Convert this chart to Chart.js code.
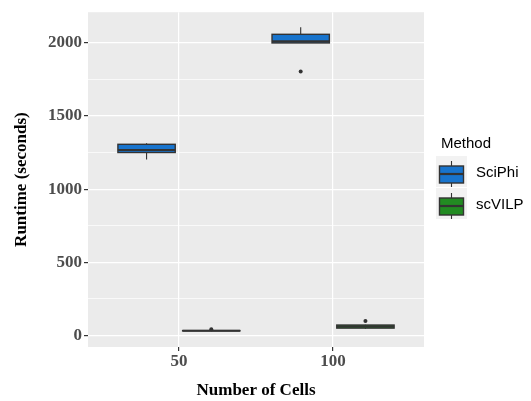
<!DOCTYPE html>
<html>
<head>
<meta charset="utf-8">
<script src="https://cdn.jsdelivr.net/npm/chart.js@4"></script>
<style>
  body { margin: 0; background: #fff; }
  #wrap { width: 531px; height: 401px; }
</style>
</head>
<body>
<div id="wrap"><canvas id="chart" width="531" height="401"></canvas></div>
<script>
// data
const cells = [50, 100];
const methods = ['SciPhi', 'scVILP'];
const colors = ['#1874CD', '#228B22'];

const sciphiMin = [1202, 1998];
const sciphiQ1 = [1250, 1998];
const sciphiMedian = [1267, 2009];
const sciphiQ3 = [1306, 2057];
const sciphiMax = [1313, 2106];
const sciphiOutliers = [[], [1803]];

const scvilpMin = [32, 46];
const scvilpQ1 = [32, 51];
const scvilpMedian = [33, 62];
const scvilpQ3 = [34, 72];
const scvilpMax = [35, 74];
const scvilpOutliers = [[44], [100]];

const yTicks = [0, 250, 500, 750, 1000, 1250, 1500, 1750, 2000];
const xTicks = [50, 100];

const stats = [
  { min: sciphiMin, q1: sciphiQ1, med: sciphiMedian, q3: sciphiQ3, max: sciphiMax, out: sciphiOutliers },
  { min: scvilpMin, q1: scvilpQ1, med: scvilpMedian, q3: scvilpQ3, max: scvilpMax, out: scvilpOutliers }
];

const dodge = 10.5;   // x units between group centre and each box
const boxWidth = 18.6; // x units

const outlierPoints = [];
stats.forEach((s, m) => {
  cells.forEach((c, i) => {
    s.out[i].forEach(v => outlierPoints.push({ x: c + (m === 0 ? -dodge : dodge), y: v }));
  });
});

const panelBg = {
  id: 'panelBg',
  beforeDraw(chart) {
    const { ctx, chartArea: a } = chart;
    ctx.save();
    ctx.fillStyle = '#EBEBEB';
    ctx.fillRect(a.left, a.top, a.right - a.left, a.bottom - a.top);
    ctx.restore();
  }
};

const drawBox = (ctx, cx, half, yMin, yQ1, yMed, yQ3, yMax, fill) => {
  ctx.strokeStyle = '#333333';
  ctx.lineWidth = 1.1;
  ctx.beginPath();
  ctx.moveTo(cx, yMax); ctx.lineTo(cx, yQ3);
  ctx.moveTo(cx, yQ1); ctx.lineTo(cx, yMin);
  ctx.stroke();
  ctx.fillStyle = fill;
  ctx.fillRect(cx - half, yQ3, half * 2, yQ1 - yQ3);
  ctx.lineWidth = 1.4;
  ctx.strokeRect(cx - half, yQ3, half * 2, yQ1 - yQ3);
  ctx.lineWidth = 2.2;
  ctx.beginPath();
  ctx.moveTo(cx - half, yMed); ctx.lineTo(cx + half, yMed);
  ctx.stroke();
};

const boxes = {
  id: 'boxes',
  beforeDatasetsDraw(chart) {
    const { ctx, scales: { x, y } } = chart;
    ctx.save();
    stats.forEach((s, m) => {
      cells.forEach((c, i) => {
        const xv = c + (m === 0 ? -dodge : dodge);
        const cx = x.getPixelForValue(xv);
        const half = (x.getPixelForValue(xv + boxWidth / 2) - cx);
        drawBox(ctx, cx, half,
          y.getPixelForValue(s.min[i]), y.getPixelForValue(s.q1[i]),
          y.getPixelForValue(s.med[i]), y.getPixelForValue(s.q3[i]),
          y.getPixelForValue(s.max[i]), colors[m]);
      });
    });
    ctx.restore();
  }
};

const legend = {
  id: 'methodLegend',
  afterDraw(chart) {
    const { ctx, chartArea: a } = chart;
    const left = a.right + 12;
    ctx.save();
    ctx.fillStyle = '#000';
    ctx.font = '15px "Liberation Sans", Arial, sans-serif';
    ctx.textBaseline = 'middle';
    ctx.fillText('Method', left + 5, 144);
    methods.forEach((name, i) => {
      const top = 156 + i * 32;
      ctx.fillStyle = '#F2F2F2';
      ctx.fillRect(left, top, 31, 31);
      drawBox(ctx, left + 15.5, 12, top + 31, top + 27, top + 18, top + 10, top + 5, colors[i]);
      ctx.fillStyle = '#000';
      ctx.fillText(name, left + 40, top + 17);
    });
    ctx.restore();
  }
};

const tickFont = { family: '"Liberation Serif", "Times New Roman", serif', size: 17, weight: 'bold' };
const titleFont = { family: '"Liberation Serif", "Times New Roman", serif', size: 17, weight: 'bold' };

new Chart(document.getElementById('chart'), {
  type: 'scatter',
  data: {
    datasets: [{
      label: 'outliers',
      data: outlierPoints,
      pointRadius: 2,
      pointHoverRadius: 2,
      pointBackgroundColor: '#333333',
      pointBorderWidth: 0
    }]
  },
  options: {
    responsive: false,
    animation: false,
    events: [],
    layout: { padding: { top: 10, right: 107, left: 0, bottom: 0 } },
    plugins: {
      legend: { display: false },
      tooltip: { enabled: false }
    },
    scales: {
      x: {
        type: 'linear',
        min: 20.5,
        max: 129.5,
        afterBuildTicks: (scale) => { scale.ticks = xTicks.map(v => ({ value: v })); },
        afterFit: (scale) => { scale.height = 54; },
        grid: { color: '#FFFFFF', lineWidth: 1.2, tickLength: 4, tickColor: '#333333' },
        border: { display: false },
        ticks: { font: tickFont, color: '#4D4D4D', padding: 0, maxRotation: 0 },
        title: { display: true, text: 'Number of Cells', font: titleFont, color: '#000', padding: { top: 7, bottom: 0 } }
      },
      y: {
        min: -78,
        max: 2208,
        afterBuildTicks: (scale) => { scale.ticks = yTicks.map(v => ({ value: v })); },
        afterFit: (scale) => { scale.width = 88; },
        grid: {
          color: '#FFFFFF',
          lineWidth: (c) => (c.tick && c.tick.value % 500 === 0 ? 1.2 : 0.7),
          tickLength: 4,
          tickColor: (c) => (c.tick && c.tick.value % 500 === 0 ? '#333333' : 'rgba(0,0,0,0)')
        },
        border: { display: false },
        ticks: {
          font: tickFont,
          color: '#4D4D4D',
          padding: 2,
          callback: (v) => (v % 500 === 0 ? String(v) : '')
        },
        title: { display: true, text: 'Runtime (seconds)', font: titleFont, color: '#000', padding: { top: 11, bottom: 0 } }
      }
    }
  },
  plugins: [panelBg, boxes, legend]
});
</script>
</body>
</html>
